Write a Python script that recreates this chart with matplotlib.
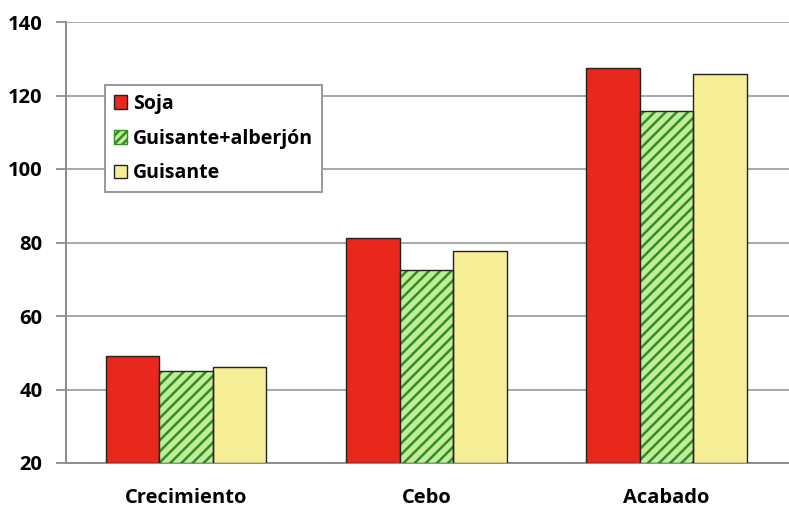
import matplotlib.pyplot as plt
import numpy as np
from matplotlib.patches import Patch

plt.rcParams["font.family"] = ["Open Sans", "DejaVu Sans"]
plt.rcParams["font.weight"] = "bold"
plt.rcParams["hatch.linewidth"] = 1.8

# Datos por fase
fases = ["Crecimiento", "Cebo", "Acabado"]
soja = [49.0, 81.3, 127.6]
guisante_alberjon = [45.0, 72.6, 115.7]
guisante = [46.1, 77.7, 125.8]

rojo = "#e8281c"
verde_claro = "#c2ec9a"
verde_oscuro = "#2f8f22"
amarillo = "#f6ef98"

fig = plt.figure(figsize=(7.89, 5.09), dpi=100)
ax = fig.add_axes([66 / 789, 1 - 463 / 509, 1 - 66 / 789, (463 - 22) / 509])

x = np.arange(len(fases))
w = 0.223

ax.bar(x - w, [v - 20 for v in soja], w, bottom=20, color=rojo,
       edgecolor="#222222", linewidth=1.0, zorder=3)
# barras rayadas: relleno + rayado verde oscuro y contorno negro aparte
ax.bar(x, [v - 20 for v in guisante_alberjon], w, bottom=20,
       color=verde_claro, edgecolor=verde_oscuro, hatch="///",
       linewidth=0, zorder=3)
ax.bar(x, [v - 20 for v in guisante_alberjon], w, bottom=20, fill=False,
       edgecolor="#222222", linewidth=1.0, zorder=4)
ax.bar(x + w, [v - 20 for v in guisante], w, bottom=20, color=amarillo,
       edgecolor="#222222", linewidth=1.0, zorder=3)

ax.set_ylim(20, 140)
ax.set_xlim(-0.5, 2.51)
ax.set_yticks(range(20, 141, 20))
ax.set_xticks(x)
ax.set_xticklabels(fases, fontsize=14.5, fontweight="bold")
ax.tick_params(axis="x", length=0, pad=18)
ax.tick_params(axis="y", length=7, color="#8c8c8c", width=1.3,
               labelsize=14.5, pad=10)
for lab in ax.get_yticklabels():
    lab.set_fontweight("bold")

ax.grid(axis="y", color="#a8a8a8", linewidth=1.4, zorder=0)
ax.set_axisbelow(True)
for s in ["top", "right"]:
    ax.spines[s].set_visible(False)
for s in ["left", "bottom"]:
    ax.spines[s].set_color("#8c8c8c")
    ax.spines[s].set_linewidth(1.4)

handles = [
    Patch(facecolor=rojo, edgecolor="#222222", label="Soja"),
    Patch(facecolor=verde_claro, edgecolor=verde_oscuro, hatch="////",
          label="Guisante+alberjón"),
    Patch(facecolor=amarillo, edgecolor="#222222", label="Guisante"),
]
leg = ax.legend(handles=handles, loc="upper left",
                bbox_to_anchor=((105 - 66) / 723, (463 - 85) / 441),
                fancybox=False, framealpha=1, edgecolor="#999999",
                prop={"size": 14, "weight": "bold"},
                handlelength=0.7, handleheight=0.7, handletextpad=0.3,
                labelspacing=0.76, borderpad=0.45, borderaxespad=0)
leg.get_frame().set_linewidth(1.4)

fig.savefig("out.png", dpi=100)
